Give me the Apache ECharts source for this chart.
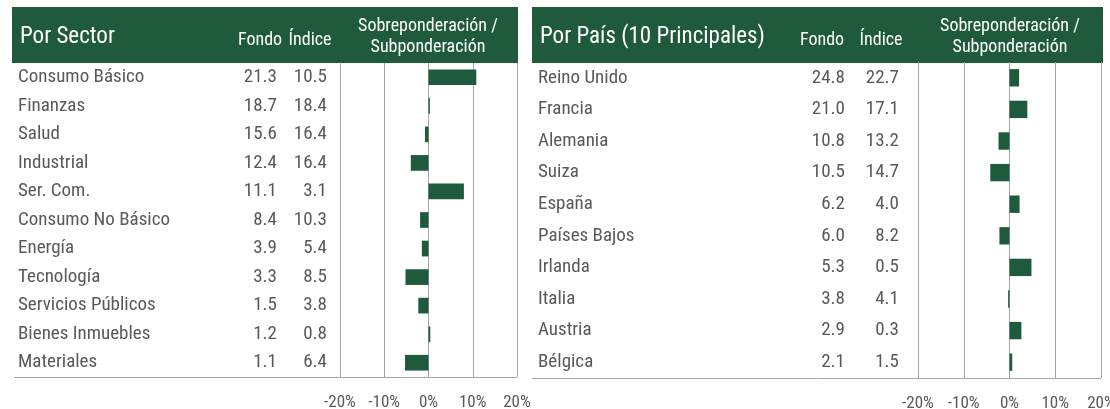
<!DOCTYPE html>
<html>
<head>
<meta charset="utf-8">
<script src="https://cdn.jsdelivr.net/npm/echarts@6/dist/echarts.min.js"></script>
<style>
  html, body { margin: 0; padding: 0; background: #fff; }
  #main { width: 1110px; height: 409px; }
</style>
</head>
<body>
<div id="main"></div>
<script>
// Por Sector
const sectores = ['Consumo Básico', 'Finanzas', 'Salud', 'Industrial', 'Ser. Com.', 'Consumo No Básico',
    'Energía', 'Tecnología', 'Servicios Públicos', 'Bienes Inmuebles', 'Materiales'];
const sectorFondo = ['21.3', '18.7', '15.6', '12.4', '11.1', '8.4', '3.9', '3.3', '1.5', '1.2', '1.1'];
const sectorIndice = ['10.5', '18.4', '16.4', '16.4', '3.1', '10.3', '5.4', '8.5', '3.8', '0.8', '6.4'];
const sectorDif = [10.8, 0.3, -0.8, -4.0, 8.0, -1.9, -1.5, -5.2, -2.3, 0.4, -5.3];

// Por País (10 Principales)
const paises = ['Reino Unido', 'Francia', 'Alemania', 'Suiza', 'España', 'Países Bajos',
    'Irlanda', 'Italia', 'Austria', 'Bélgica'];
const paisFondo = ['24.8', '21.0', '10.8', '10.5', '6.2', '6.0', '5.3', '3.8', '2.9', '2.1'];
const paisIndice = ['22.7', '17.1', '13.2', '14.7', '4.0', '8.2', '0.5', '4.1', '0.3', '1.5'];
const paisDif = [2.1, 3.9, -2.4, -4.2, 2.2, -2.2, 4.8, -0.3, 2.6, 0.6];

const FONT = "'Roboto Condensed', 'Liberation Sans Narrow', Roboto, sans-serif";
const GREEN = '#1e5a3b';
const TXT = '#595959';
const LINE = '#a6a6a6';

// un eje de categorias solo para pintar una columna de texto
function colAxis(grid, data, margin, align, pad, line) {
    return {
        type: 'category', gridIndex: grid, data: data, inverse: true, position: 'left',
        axisLine: {show: !!line, onZero: false, lineStyle: {color: LINE, width: 1}},
        axisTick: {show: false}, splitLine: {show: false},
        axisLabel: {margin: margin, align: align || 'right', color: TXT, fontSize: 19, fontFamily: FONT,
            padding: pad || 0}
    };
}

function valAxis(grid) {
    return {
        type: 'value', gridIndex: grid, min: -20, max: 20, interval: 10,
        axisLine: {show: false}, axisTick: {show: false},
        axisLabel: {formatter: '{value}%', margin: 17, color: TXT, fontSize: 17, fontFamily: FONT},
        splitLine: {show: true, showMinLine: true, showMaxLine: true, lineStyle: {color: LINE, width: 1}}
    };
}

function header(x0, x1, title, fondoX, indiceX, sobreX) {
    const white = {fill: '#fff', fontFamily: FONT};
    return [
        {type: 'rect', shape: {x: x0, y: 7, width: x1 - x0, height: 56}, style: {fill: GREEN}, silent: true},
        {type: 'text', x: x0 + 8, y: 37, style: Object.assign({text: title, fontSize: 23, verticalAlign: 'middle'}, white)},
        {type: 'text', x: fondoX, y: 40, style: Object.assign({text: 'Fondo', fontSize: 18, align: 'center', verticalAlign: 'middle'}, white)},
        {type: 'text', x: indiceX, y: 40, style: Object.assign({text: 'Índice', fontSize: 18, align: 'center', verticalAlign: 'middle'}, white)},
        {type: 'text', x: sobreX, y: 37, style: Object.assign({text: 'Sobreponderación /\nSubponderación', fontSize: 18,
            lineHeight: 21, align: 'center', verticalAlign: 'middle'}, white)}
    ];
}

const padL = [0, 0, 3, 0];
const padR = [5, 0, 0, 0];

const chart = echarts.init(document.getElementById('main'));
chart.setOption({
    animation: false,
    grid: [
        {left: 340, width: 177, top: 63, height: 314, outerBoundsMode: 'none', containLabel: false},
        {left: 918, width: 183, top: 62, height: 316, outerBoundsMode: 'none', containLabel: false}
    ],
    xAxis: [valAxis(0), valAxis(1)],
    yAxis: [
        colAxis(0, sectorIndice, 13, 'right', padL, true),    // indice (las barras van sobre este eje)
        colAxis(0, sectorFondo, 63, 'right', padL),
        colAxis(0, sectores, 322, 'left', padL),
        colAxis(1, paisIndice, 19, 'right', padR, true),
        colAxis(1, paisFondo, 73, 'right', padR),
        colAxis(1, paises, 380, 'left', padR)
    ],
    series: [
        {type: 'bar', xAxisIndex: 0, yAxisIndex: 0, data: sectorDif, barWidth: '55%',
            itemStyle: {color: GREEN}, silent: true},
        {type: 'bar', xAxisIndex: 1, yAxisIndex: 3, data: paisDif, barWidth: '55%',
            itemStyle: {color: GREEN}, silent: true}
    ],
    graphic: header(12, 518, 'Por Sector', 260, 310, 428)
        .concat(header(532, 1103, 'Por País (10 Principales)', 822, 881, 1010))
        .concat([
            {type: 'line', shape: {x1: 14, y1: 377.5, x2: 517, y2: 377.5}, style: {stroke: LINE, lineWidth: 1}, silent: true},
            {type: 'line', shape: {x1: 532, y1: 378.5, x2: 1101, y2: 378.5}, style: {stroke: LINE, lineWidth: 1}, silent: true}
        ])
});
</script>
</body>
</html>
